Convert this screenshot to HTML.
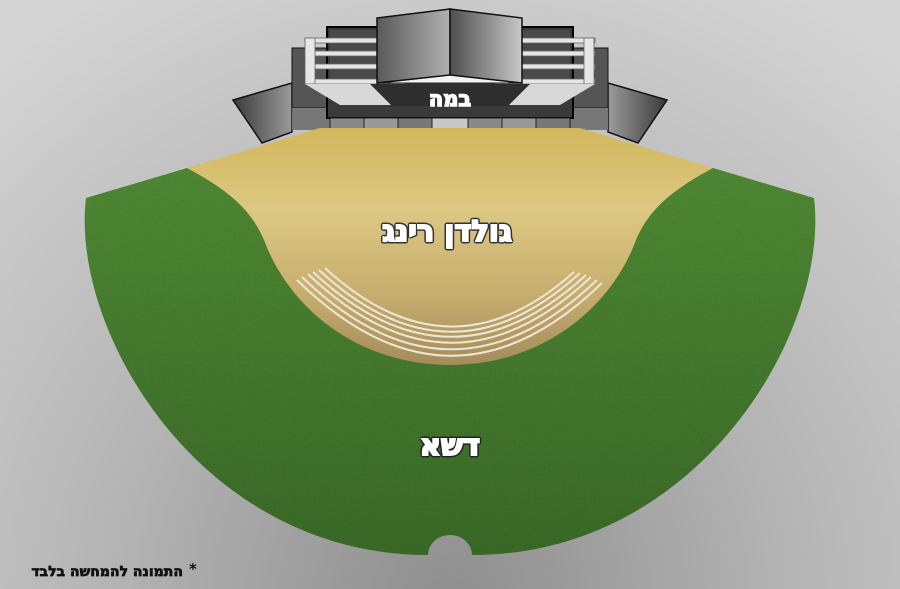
<!DOCTYPE html>
<html><head><meta charset="utf-8"><style>
html,body{margin:0;padding:0;width:900px;height:589px;overflow:hidden}
svg{display:block}
text{font-family:"DejaVu Sans","Liberation Sans",sans-serif;font-weight:bold}
</style></head><body>
<svg width="900" height="589" viewBox="0 0 900 589" xmlns="http://www.w3.org/2000/svg">
<defs>
<radialGradient id="bg" cx="450" cy="600" r="700" gradientUnits="userSpaceOnUse">
<stop offset="0" stop-color="#8e8e8e"/><stop offset="0.5" stop-color="#b5b5b5"/><stop offset="1" stop-color="#d4d4d4"/>
</radialGradient>
<linearGradient id="gold" x1="0" y1="128" x2="0" y2="365" gradientUnits="userSpaceOnUse">
<stop offset="0" stop-color="#d2b75d"/><stop offset="0.35" stop-color="#dcc882"/><stop offset="0.7" stop-color="#c7ad6e"/><stop offset="1" stop-color="#a48c5c"/>
</linearGradient>
<linearGradient id="grass" x1="0" y1="170" x2="0" y2="555" gradientUnits="userSpaceOnUse">
<stop offset="0" stop-color="#4f8a34"/><stop offset="1" stop-color="#3a6a28"/>
</linearGradient>
<filter id="noise"><feTurbulence baseFrequency="0.9" numOctaves="2" seed="3"/><feColorMatrix values="0 0 0 0 0  0 0 0 0 0  0 0 0 0 0  0 0 0 0.25 0"/><feComposite in2="SourceGraphic" operator="in"/><feBlend in="SourceGraphic" mode="multiply"/></filter>
<linearGradient id="pl" x1="0" x2="1"><stop offset="0" stop-color="#5a5a5a"/><stop offset="1" stop-color="#b0b0b0"/></linearGradient>
<linearGradient id="pr" x1="0" x2="1"><stop offset="0" stop-color="#4e4e4e"/><stop offset="1" stop-color="#c8c8c8"/></linearGradient>
<linearGradient id="wl" x1="0" x2="1"><stop offset="0" stop-color="#3a3a3a"/><stop offset="1" stop-color="#9a9a9a"/></linearGradient>
<linearGradient id="wr" x1="1" x2="0"><stop offset="0" stop-color="#3a3a3a"/><stop offset="1" stop-color="#9a9a9a"/></linearGradient>
</defs>
<rect width="900" height="589" fill="url(#bg)"/>
<polygon points="233,100 292,83 292,132 262,143" fill="url(#wl)" stroke="#111" stroke-width="1.5"/>
<polygon points="667,100 608,83 608,132 638,143" fill="url(#wr)" stroke="#111" stroke-width="1.5"/>
<rect x="292" y="48" width="36" height="60" fill="#555" stroke="#111"/>
<rect x="572" y="48" width="36" height="60" fill="#555" stroke="#111"/>
<rect x="292" y="108" width="316" height="22" fill="#777"/>
<rect x="327" y="27" width="246" height="91" fill="#3a3a3a" stroke="#000" stroke-width="2"/>
<rect x="330" y="30" width="240" height="50" fill="#4a4a4a"/>
<g stroke="#222" stroke-width="1">
<rect x="330" y="118" width="34" height="12" fill="#888"/><rect x="364" y="118" width="34" height="12" fill="#999"/><rect x="398" y="118" width="34" height="12" fill="#777"/><rect x="432" y="118" width="36" height="12" fill="#c8c8c8"/><rect x="468" y="118" width="34" height="12" fill="#888"/><rect x="502" y="118" width="34" height="12" fill="#999"/><rect x="536" y="118" width="34" height="12" fill="#777"/>
</g>
<g fill="#e6e6e6" stroke="#666" stroke-width="0.8">
<rect x="305" y="38" width="100" height="5"/><rect x="305" y="51" width="100" height="5"/><rect x="305" y="64" width="100" height="5"/><rect x="305" y="79" width="100" height="5"/>
<rect x="495" y="38" width="100" height="5"/><rect x="495" y="51" width="100" height="5"/><rect x="495" y="64" width="100" height="5"/><rect x="495" y="79" width="100" height="5"/>
<rect x="305" y="38" width="10" height="46"/><rect x="584" y="38" width="10" height="46"/>
</g>
<polygon points="305,84 378,84 392,105 340,105" fill="#d8d8d8"/>
<polygon points="595,84 522,84 508,105 560,105" fill="#d8d8d8"/>
<polygon points="370,84 530,84 508,106 392,106" fill="#2e2e2e"/>
<polygon points="377,83 450,75 522,83" fill="#f2f2f2" stroke="#222"/>
<polygon points="377,18 450,9 450,75 377,83" fill="url(#pl)" stroke="#111" stroke-width="1.5"/>
<polygon points="450,9 522,18 522,83 450,75" fill="url(#pr)" stroke="#111" stroke-width="1.5"/>
<text x="450" y="106" text-anchor="middle" font-size="21" fill="#fff" stroke="#fff" stroke-width="1.4">במה</text>
<path d="M86,198 L187,168 L713,168 L814,198 C830,330 700,555 472,555 A22,20 0 0 0 428,555 C200,555 70,330 86,198 Z" fill="url(#grass)" filter="url(#noise)"/>
<path d="M320,128 L580,128 L713,168 C668,192 648,212 636,240 C610,310 540,365 450,365 C360,365 290,310 264,240 C252,212 232,192 187,168 Z" fill="url(#gold)"/>
<g fill="none" stroke="#ece6d6" stroke-width="2">
<path d="M297,280 Q450,430 602,283"/>
<path d="M302,277 Q450,420 597,280"/>
<path d="M308,274 Q450,410 591,277"/>
<path d="M313,272 Q450,400 586,275"/>
<path d="M319,270 Q450,392 580,273"/>
<path d="M325,268 Q450,383 574,272"/>
</g>
<g font-size="29" text-anchor="middle">
<text x="447" y="241" fill="#333" stroke="#333" stroke-width="5" stroke-linejoin="round">גולדן רינג</text>
<text x="447" y="241" fill="#fff" stroke="#fff" stroke-width="2">גולדן רינג</text>
<text x="450" y="455" fill="#222" stroke="#222" stroke-width="5" stroke-linejoin="round">דשא</text>
<text x="450" y="455" fill="#fff" stroke="#fff" stroke-width="2">דשא</text>
</g>
<text x="183" y="576" text-anchor="end" font-size="14" fill="#111" stroke="#111" stroke-width="0.7">התמונה להמחשה בלבד</text>
<text x="189" y="574" font-size="15" fill="#111">*</text>
</svg>
</body></html>
